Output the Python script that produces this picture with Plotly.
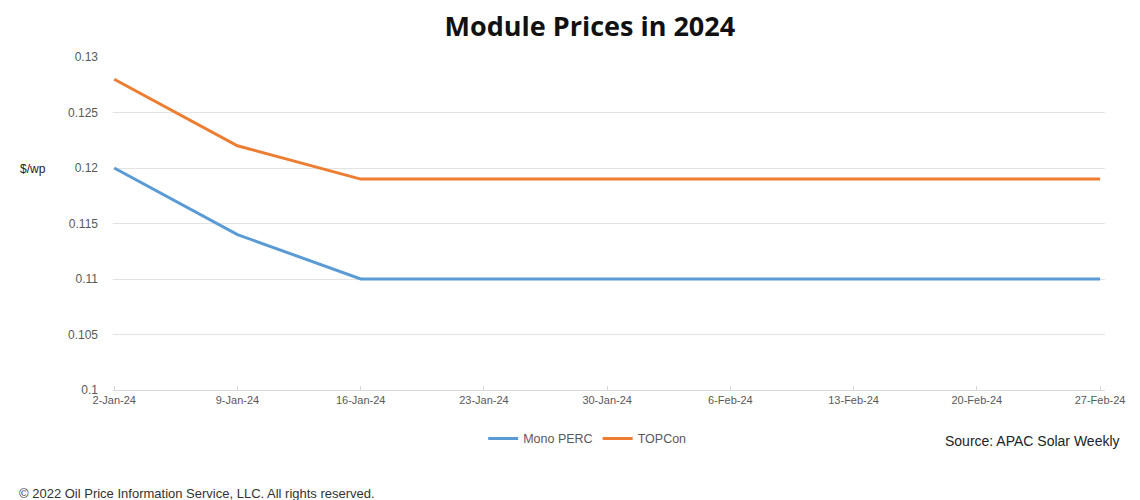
import plotly.graph_objects as go

dates = ["2-Jan-24", "9-Jan-24", "16-Jan-24", "23-Jan-24", "30-Jan-24",
         "6-Feb-24", "13-Feb-24", "20-Feb-24", "27-Feb-24"]
mono_perc = [0.120, 0.114, 0.110, 0.110, 0.110, 0.110, 0.110, 0.110, 0.110]
topcon = [0.128, 0.122, 0.119, 0.119, 0.119, 0.119, 0.119, 0.119, 0.119]
y_ticks = [0.1, 0.105, 0.11, 0.115, 0.12, 0.125, 0.13]
y_tick_text = ["0.1", "0.105", "0.11", "0.115", "0.12", "0.125", "0.13"]

fig = go.Figure()
fig.add_trace(go.Scatter(x=dates, y=mono_perc, mode="lines", name="Mono PERC",
                         line=dict(color="#5B9BD5", width=3)))
fig.add_trace(go.Scatter(x=dates, y=topcon, mode="lines", name="TOPCon",
                         line=dict(color="#ED7D31", width=3)))

fig.update_layout(
    width=1132, height=492,
    paper_bgcolor="white", plot_bgcolor="white",
    margin=dict(l=105, r=35, t=49, b=110, autoexpand=False),
    title=dict(text="<b>Module Prices in 2024</b>", x=0.514, xanchor="center",
               y=0.962, yanchor="middle",
               font=dict(family="Open Sans, Liberation Sans, sans-serif", size=27, color="#111111")),
    font=dict(family="Liberation Sans, Arial, sans-serif", size=12, color="#595959"),
    showlegend=True,
    legend=dict(orientation="h", x=0.478, xanchor="center", y=-0.147, yanchor="middle",
                font=dict(size=12.5, color="#595959"), itemwidth=30, traceorder="normal",
                bgcolor="rgba(0,0,0,0)"),
    xaxis=dict(type="category", range=[-0.01, 8.04], showgrid=False, automargin=False,
               showline=True, linecolor="#D9D9D9", linewidth=1,
               ticks="inside", ticklen=4, tickcolor="#D9D9D9",
               tickfont=dict(size=11, color="#595959"), tickangle=0),
    yaxis=dict(range=[0.1, 0.13], tickvals=y_ticks, ticktext=y_tick_text, automargin=False,
               showgrid=True, gridcolor="#E3E3E3", gridwidth=1,
               zeroline=False, showline=False, ticks="",
               tickfont=dict(size=12, color="#595959"), ticklabelstandoff=14),
)

fig.add_annotation(text="$/wp", xref="paper", yref="paper", x=-0.096, y=0.664,
                   xanchor="left", yanchor="middle", showarrow=False,
                   font=dict(size=12, color="#222222"))
fig.add_annotation(text="Source: APAC Solar Weekly", xref="paper", yref="paper",
                   x=1.017, y=-0.153, xanchor="right", yanchor="middle", showarrow=False,
                   font=dict(family="Liberation Sans, Arial, sans-serif", size=14, color="#222222"))
fig.add_annotation(text="© 2022 Oil Price Information Service, LLC. All rights reserved.",
                   xref="paper", yref="paper", x=-0.097, y=-0.312, xanchor="left",
                   yanchor="middle", showarrow=False,
                   font=dict(family="Liberation Sans, Arial, sans-serif", size=13, color="#333333"))

fig.write_html("out.html")
